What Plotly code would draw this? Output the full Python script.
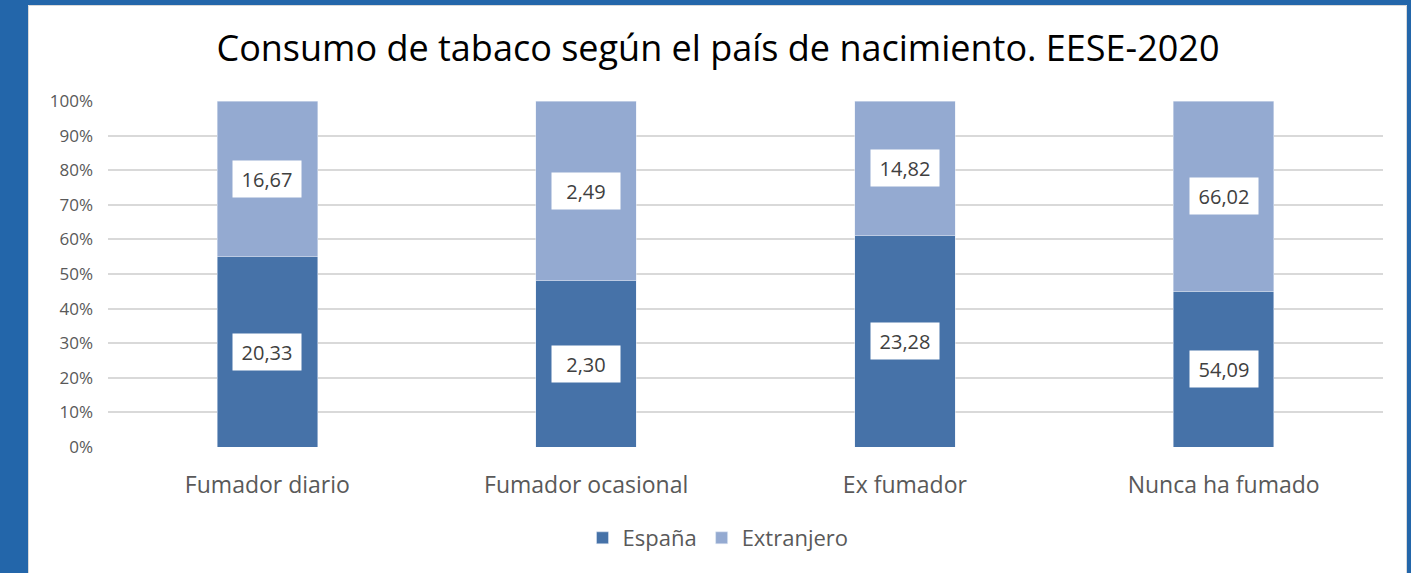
import plotly.graph_objects as go

categories = ["Fumador diario", "Fumador ocasional", "Ex fumador", "Nunca ha fumado"]
espana = [20.33, 2.30, 23.28, 54.09]
extranjero = [16.67, 2.49, 14.82, 66.02]
series_names = ["España", "Extranjero"]
tick_vals = [0, 10, 20, 30, 40, 50, 60, 70, 80, 90, 100]
tick_text = [f"{v}%" for v in tick_vals]

C_ESP = "#4672A8"
C_EXT = "#94AAD1"
TXT = "#595959"
FONT = "Open Sans"

fig = go.Figure()
fig.add_trace(go.Bar(x=categories, y=espana, name=series_names[0], marker_color=C_ESP, width=0.315))
fig.add_trace(go.Bar(x=categories, y=extranjero, name=series_names[1], marker_color=C_EXT, width=0.315))

def fmt(v):
    return f"{v:.2f}".replace(".", ",")

annotations = []
for c, a, b in zip(categories, espana, extranjero):
    tot = a + b
    pa = a / tot * 100
    for val, ymid in ((a, pa / 2), (b, pa + (100 - pa) / 2)):
        annotations.append(dict(x=c, y=ymid, xref="x", yref="y", text=fmt(val), showarrow=False,
                                bgcolor="white", borderpad=4, width=60, height=28,
                                font=dict(family=FONT, size=20, color="#404040")))

# frame geometry (paper coords relative to plot area)
L, R, T, B = 108, 28, 101, 126
W = 1411 - L - R
H = 573 - T - B
def px(x):
    return (x - L) / W
def py(y):
    return (573 - B - y) / H

BLUE = "#2366AA"
shapes = [
    dict(type="rect", xref="paper", yref="paper", x0=px(-2), x1=px(28), y0=py(580), y1=py(-5),
         fillcolor=BLUE, line_width=0, layer="below"),
    dict(type="rect", xref="paper", yref="paper", x0=px(-2), x1=px(1415), y0=py(5), y1=py(-5),
         fillcolor=BLUE, line_width=0, layer="below"),
    dict(type="rect", xref="paper", yref="paper", x0=px(1407), x1=px(1415), y0=py(580), y1=py(-5),
         fillcolor=BLUE, line_width=0, layer="below"),
    dict(type="rect", xref="paper", yref="paper", x0=px(28.5), x1=px(1406.5), y0=py(580), y1=py(5.5),
         fillcolor="rgba(0,0,0,0)", line=dict(color="#D9D9D9", width=1), layer="below"),
]

fig.update_layout(
    barmode="stack",
    barnorm="percent",
    width=1411, height=573,
    margin=dict(l=L, r=R, t=T, b=B),
    paper_bgcolor="white",
    plot_bgcolor="white",
    title=dict(text="Consumo de tabaco según el país de nacimiento. EESE-2020",
               x=718 / 1411, xanchor="center", y=1 - 48 / 573, yanchor="middle",
               font=dict(family=FONT, size=36, color="#000000")),
    yaxis=dict(range=[0, 100], tickmode="array", tickvals=tick_vals, ticktext=tick_text,
               showgrid=True, gridcolor="#D9D9D9", gridwidth=2, zeroline=False, showline=False,
               tickfont=dict(family=FONT, size=17, color=TXT), ticks="",
               ticklabelstandoff=14, automargin=False),
    xaxis=dict(showline=False, ticks="", ticklabelstandoff=22,
               tickfont=dict(family=FONT, size=23, color=TXT), automargin=False),
    legend=dict(orientation="h", x=px(718), xanchor="center", y=py(538), yanchor="middle",
                font=dict(family=FONT, size=22, color=TXT), traceorder="normal",
                itemwidth=30),
    annotations=annotations,
    shapes=shapes,
    showlegend=True,
)

fig.write_html("out.html", config={"displayModeBar": False},
               post_script="document.body.style.margin='0';document.body.style.overflow='hidden';")
